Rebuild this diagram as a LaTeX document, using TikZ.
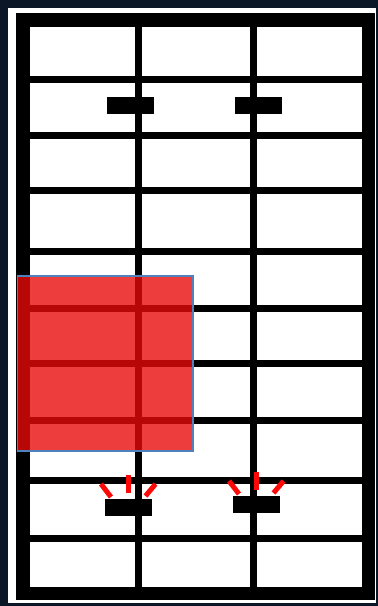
\documentclass[tikz,border=0pt]{standalone}
\usepackage{xcolor}
\usepackage{tikz}
\definecolor{navyc}{RGB}{11,22,38}
\definecolor{rayc}{RGB}{255,8,8}
\definecolor{zonec}{RGB}{233,10,10}
\definecolor{edgec}{RGB}{79,129,189}

\begin{document}
\begin{tikzpicture}[x=0.02cm,y=-0.02cm,
  bar/.style={line width=0.14cm},
  tab/.style={fill=black,inner sep=0pt,minimum width=0.94cm,minimum height=0.34cm},
  ray/.style={draw=rayc,line width=0.1cm},
  zone/.style={fill=zonec,fill opacity=0.79,draw=edgec,line width=0.6pt}]
% ---- backdrop and white sheet ----
\fill[navyc] (0,0) rectangle (378,606);
\useasboundingbox (0,0) rectangle (378,606);
\fill[white] (8,8) rectangle (376,603);
% ---- outer frame ----
\fill[black] (16,13) rectangle (375,600);
\fill[white] (30,27) rectangle (362,587);
% ---- grid: two posts, nine rails ----
\foreach \gx in {138.5,253.5}
  \draw[bar] (\gx,27) -- (\gx,587);
\foreach \gy in {79.5,135,190.5,251.5,308.5,363.5,420.5,480,538}
  \draw[bar] (30,\gy) -- (362,\gy);
% ---- tabs on the posts ----
\node[tab] (t1) at (130.5,105.5) {};
\node[tab] (t2) at (258.5,105.5) {};
\node[tab] (b1) at (128.5,507.5) {};
\node[tab] (b2) at (256.5,504.5) {};
% ---- red rays over the lower tabs ----
\foreach \cx/\cy in {128.5/507.5,256.5/504.5}{
  \begin{scope}[shift={(\cx,\cy)}]
  \draw[ray] (-27.5,-23.5) -- (-17.5,-10.5);
  \draw[ray] (0,-32.5) -- (0,-14.5);
  \draw[ray] (27,-23.5) -- (17,-11.5);
  \end{scope}}
% ---- red zone ----
\draw[zone] (17.5,276) rectangle (193,451);
\end{tikzpicture}
\end{document}
